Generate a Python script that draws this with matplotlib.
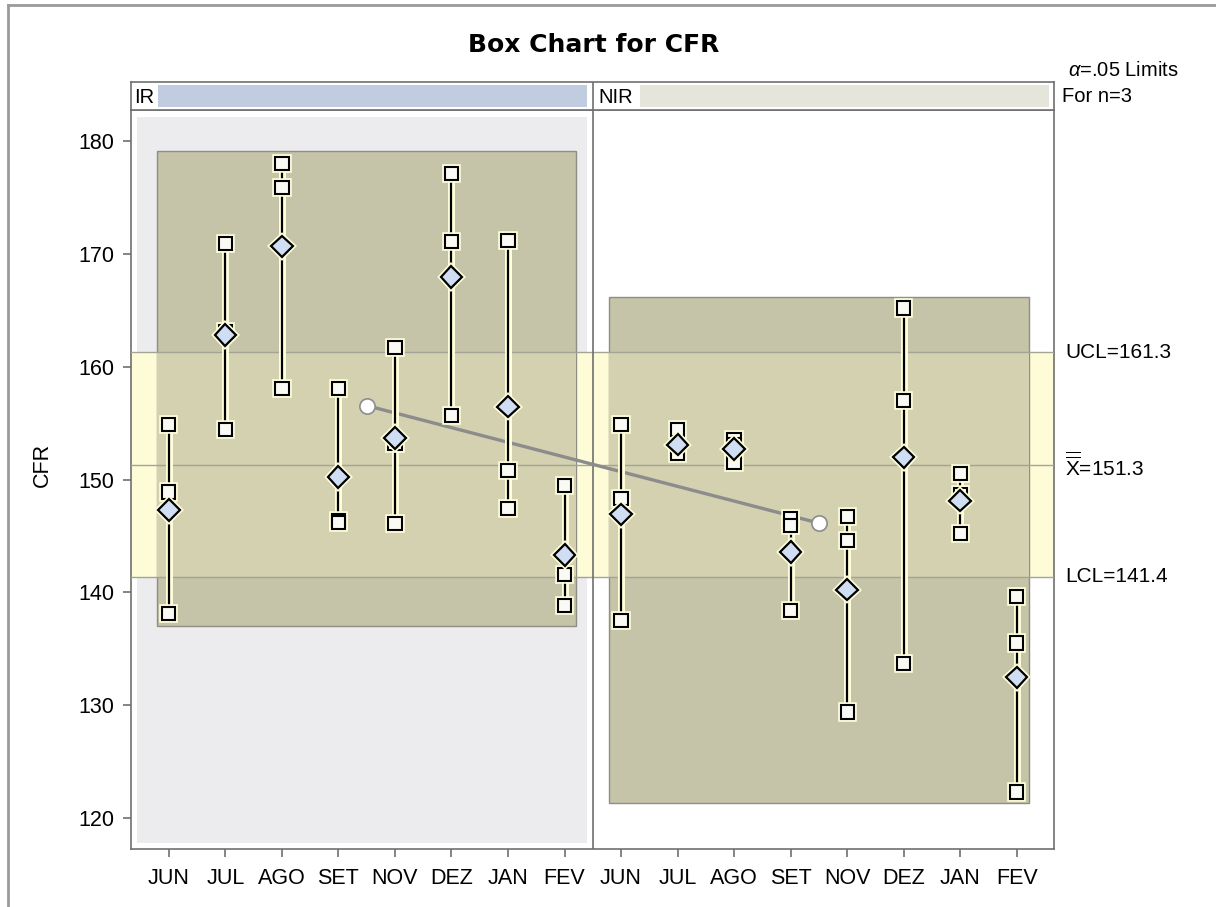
import numpy as np
import matplotlib
matplotlib.use('Agg')
import matplotlib.pyplot as plt
import matplotlib.patheffects as pe
from matplotlib.patches import Rectangle

plt.rcParams['font.family'] = ['Liberation Sans', 'DejaVu Sans']
plt.rcParams['mathtext.fontset'] = 'custom'
plt.rcParams['mathtext.rm'] = 'Liberation Sans'
plt.rcParams['mathtext.it'] = 'Liberation Sans:italic'

# ---- data ----
months = ['JUN', 'JUL', 'AGO', 'SET', 'NOV', 'DEZ', 'JAN', 'FEV']
phases = ['IR', 'NIR']

# three observations per subgroup (n=3)
ir_obs = [
    [154.9, 148.9, 138.1],
    [170.9, 163.1, 154.4],
    [178.0, 175.9, 158.1],
    [158.1, 146.4, 146.2],
    [161.7, 153.2, 146.1],
    [177.1, 171.1, 155.7],
    [171.2, 150.8, 147.4],
    [149.5, 141.6, 138.8],
]
nir_obs = [
    [154.9, 148.3, 137.5],
    [154.4, 152.6, 152.3],
    [153.5, 153.1, 151.5],
    [146.5, 145.9, 138.4],
    [146.7, 144.6, 129.4],
    [165.2, 157.0, 133.7],
    [150.5, 148.7, 145.2],
    [139.6, 135.5, 122.3],
]

# phase range boxes (low, high)
ir_band = (137.0, 179.1)
nir_band = (121.3, 166.2)

ucl = 161.3
center = 151.3
lcl = 141.4

# ---- layout ----
W, H = 1216, 907
fig = plt.figure(figsize=(W / 100, H / 100), dpi=100)
ax = fig.add_axes([131 / W, 1 - 849 / H, (1054 - 131) / W, (849 - 110) / H])
hx = fig.add_axes([131 / W, 1 - 110 / H, (1054 - 131) / W, 28 / H])

xmin, xmax = -0.67, 15.66
ymin, ymax = 117.25, 182.75
ax.set_xlim(xmin, xmax)
ax.set_ylim(ymin, ymax)
hx.set_xlim(xmin, xmax)
hx.set_ylim(0, 1)

spine_col = '#707070'
for a in (ax, hx):
    for s in a.spines.values():
        s.set_color(spine_col)
        s.set_linewidth(1.2)

n = len(months)
xpos = np.arange(2 * n)
groups = [ir_obs, nir_obs]
bands = [ir_band, nir_band]

# light gray background of the IR phase
ax.add_patch(Rectangle((-0.57, 117.8), 7.97, 64.3, facecolor='#ECECEE',
                       edgecolor='none', zorder=0))

# control-limit band across the whole plot
ax.axhspan(lcl, ucl, facecolor='#FDFCD7', edgecolor='none', zorder=1)

# phase boxes
half = 0.21
for g, (lo, hi) in enumerate(bands):
    x0 = xpos[g * n] - half
    x1 = xpos[g * n + n - 1] + half
    ax.add_patch(Rectangle((x0, lo), x1 - x0, hi - lo, facecolor='#C5C3A8',
                           edgecolor='#8E8E84', linewidth=1, zorder=2))
    blo, bhi = max(lo, lcl), min(hi, ucl)
    ax.add_patch(Rectangle((x0, blo), x1 - x0, bhi - blo, facecolor='#D3D1B0',
                           edgecolor='none', zorder=2.5))

for v in (ucl, center, lcl):
    ax.axhline(v, color='#A3A396', linewidth=1, zorder=3)

# phase divider
ax.axvline(n - 0.5, color=spine_col, linewidth=1.2, zorder=3)
hx.axvline(n - 0.5, color=spine_col, linewidth=1.2)

glow = [pe.Stroke(linewidth=5, foreground='#FFFFDC'), pe.Normal()]
mglow = [pe.Stroke(linewidth=4, foreground='#FFFFDC'), pe.Normal()]

group_means = []
for g, obs in enumerate(groups):
    means = []
    for i, vals in enumerate(obs):
        x = xpos[g * n + i]
        vals = np.array(vals)
        ax.plot([x, x], [vals.min(), vals.max()], color='black', linewidth=1.6,
                zorder=5, path_effects=glow, solid_capstyle='butt')
        ax.plot([x] * len(vals), vals, linestyle='none', marker='s', markersize=9.5,
                markerfacecolor='#FAFAF4', markeredgecolor='black', markeredgewidth=1.5,
                zorder=6, path_effects=mglow)
        m = vals.mean()
        means.append(m)
        ax.plot([x], [m], linestyle='none', marker='D', markersize=11,
                markerfacecolor='#D0DEF3', markeredgecolor='black', markeredgewidth=1.6,
                zorder=7, path_effects=mglow)
    group_means.append(np.mean(means))

# line joining the phase averages
gx = [g * n + (n - 1) / 2 for g in range(2)]
ax.plot(gx, group_means, color='#8C8C8C', linewidth=2.4, zorder=4)
ax.plot(gx, group_means, linestyle='none', marker='o', markersize=11,
        markerfacecolor='white', markeredgecolor='#8C8C8C', markeredgewidth=1.2, zorder=8)

# axes ticks
ax.set_xticks(xpos)
ax.set_xticklabels(months * 2)
ax.set_yticks(np.arange(120, 181, 10))
ax.tick_params(axis='both', labelsize=15.5, length=6, width=1.2, color=spine_col, pad=6)
ax.tick_params(axis='x', pad=8)

# header strip
hx.set_xticks([])
hx.set_yticks([])
hx.add_patch(Rectangle((-0.19, 0.1), 7.59, 0.8, facecolor='#C2CCE0', edgecolor='none'))
hx.add_patch(Rectangle((8.34, 0.1), 7.23, 0.8, facecolor='#E5E5DB', edgecolor='none'))
hx.text(-0.62, 0.45, phases[0], ha='left', va='center', fontsize=14.5)
hx.text(7.6, 0.45, phases[1], ha='left', va='center', fontsize=14.5)

# control-limit labels
ytr = ax.get_yaxis_transform()
ax.text(1.012, ucl, f'UCL={ucl}', transform=ytr, ha='left', va='center', fontsize=15)
ax.text(1.012, center, r'$\overline{\overline{\mathrm{X}}}$' + f'={center}', transform=ytr,
        ha='left', va='center', fontsize=15)
ax.text(1.012, lcl, f'LCL={lcl}', transform=ytr, ha='left', va='center', fontsize=15)

fig.text(1068 / W, 1 - 71 / H, r'$\alpha$=.05 Limits', ha='left', va='center', fontsize=14.5)
fig.text(1062 / W, 1 - 97 / H, 'For n=3', ha='left', va='center', fontsize=14.5)

fig.text(594 / W, 1 - 45 / H, 'Box Chart for CFR', ha='center', va='center',
         fontsize=18, fontweight='bold', family='DejaVu Sans')
fig.text(42 / W, 1 - 465 / H, 'CFR', rotation=90, ha='center', va='center', fontsize=15.5)

# page frame from the screenshot
fig.add_artist(plt.Line2D([8 / W, 8 / W], [0, 1 - 5 / H], transform=fig.transFigure,
                          color='#9A9A9A', linewidth=2))
fig.add_artist(plt.Line2D([8 / W, 1], [1 - 5 / H, 1 - 5 / H], transform=fig.transFigure,
                          color='#9A9A9A', linewidth=2))

fig.savefig('out.png', dpi=100)
